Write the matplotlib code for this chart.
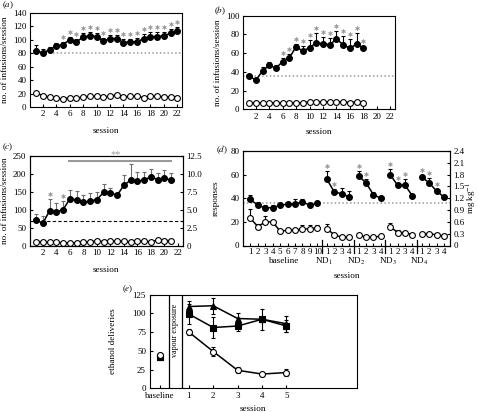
import matplotlib
matplotlib.use('Agg')
import matplotlib.pyplot as plt
import matplotlib.transforms as mtransforms
import numpy as np

plt.rcParams['font.family'] = ['Liberation Serif', 'DejaVu Serif']
plt.rcParams['mathtext.fontset'] = 'stix'
plt.rcParams['xtick.direction'] = 'in'
plt.rcParams['ytick.direction'] = 'in'
plt.rcParams['xtick.labelsize'] = 6.5
plt.rcParams['ytick.labelsize'] = 6.5
plt.rcParams['axes.labelsize'] = 6.6
plt.rcParams['axes.linewidth'] = 0.8
plt.rcParams['xtick.major.size'] = 2.5
plt.rcParams['ytick.major.size'] = 2.5
plt.rcParams['xtick.major.pad'] = 2.5
plt.rcParams['ytick.major.pad'] = 2.5

W, H = 479, 412
GREY = '#9a9a9a'

# ---- panel (a)
a_sessions = np.arange(1, 23)
a_drug = [83, 81, 85, 91, 93, 100, 97, 104, 106, 105, 98, 102, 102, 96, 97, 97, 102, 105, 105, 106, 110, 113]
a_drug_err = [9, 6, 5, 5, 4, 5, 4, 6, 5, 5, 5, 5, 5, 5, 5, 6, 6, 6, 6, 6, 6, 6]
a_water = [21, 17, 15, 13, 12, 14, 13, 15, 16, 16, 15, 16, 18, 15, 16, 16, 14, 16, 16, 15, 15, 14]
a_stars = list(range(5, 23))
a_criterion = 80

# ---- panel (b)
b_sessions = np.arange(1, 19)
b_drug = [36, 31, 41, 47, 44, 51, 55, 67, 62, 66, 71, 70, 69, 75, 69, 65, 70, 65]
b_drug_err = [2, 2, 4, 3, 3, 4, 4, 3, 6, 8, 10, 7, 7, 9, 9, 10, 11, 3]
b_water = [7, 7, 7, 7, 7, 7, 7, 7, 7, 8, 8, 8, 8, 8, 8, 7, 8, 7]
b_stars = list(range(6, 19))
b_criterion = 36

# ---- panel (c)
c_sessions = np.arange(1, 22)
c_drug = [72, 63, 98, 94, 101, 131, 128, 121, 125, 129, 149, 148, 141, 169, 183, 180, 183, 193, 184, 189, 182]
c_drug_err = [18, 20, 32, 26, 23, 24, 26, 22, 22, 20, 22, 13, 4, 27, 44, 25, 22, 22, 19, 23, 20]
c_water = [12, 12, 10, 10, 9, 8, 9, 10, 12, 14, 12, 15, 13, 14, 11, 15, 13, 12, 16, 15, 15]
c_stars = [3, 5]
c_criterion = 70
c_sig_span = (5.8, 21)
c_sig_level = 237

# ---- panel (d)
d_groups = ['baseline', 'ND$_1$', 'ND$_2$', 'ND$_3$', 'ND$_4$']
d_group_start = [1, 11.3, 15.55, 19.8, 24.05]
d_drug = [[39, 34, 32, 32, 34, 35, 35, 37, 34, 36],
          [56, 45, 44, 41], [59, 53, 43, 40], [60, 51, 51, 42], [58, 53, 46, 41]]
d_drug_err = [[4, 3, 2, 2, 1, 2, 4, 2, 1, 2],
              [7, 3, 5, 5], [4, 3, 2, 2], [5, 2, 5, 1], [2, 4, 2, 2]]
d_veh = [[23, 16, 20, 20, 12, 13, 13, 14, 14, 15],
         [14, 9, 7, 7], [9, 7, 7, 8], [16, 11, 11, 9], [10, 10, 9, 8]]
d_veh_err = [[8, 2, 5, 2, 1, 2, 1, 3, 3, 2],
             [4, 1, 1, 1], [1, 1, 1, 1], [3, 2, 1, 1], [1, 1, 1, 1]]
d_stars = [[], [0, 1], [0, 1], [0, 1, 2], [0, 1, 2]]
d_criterion = 36

# ---- panel (e)
e_labels = ['baseline', '1', '2', '3', '4', '5']
e_pos = [-0.19, 1, 2, 3, 4, 5]
e_circle = [44, 75, 49, 24, 19, 21]
e_circle_err = [2, 4, 6, 4, 2, 5]
e_square = [42, 99, 81, 83, 92, 83]
e_square_err = [2, 13, 14, 6, 3, 8]
e_tri = [42, 109, 110, 93, 92, 86]
e_tri_err = [2, 8, 11, 8, 14, 11]
e_vapour = (0.19, 0.71)

fig = plt.figure(figsize=(W / 100, H / 100), dpi=100)


def px_axes(l, t, r, b):
    return fig.add_axes([l / W, 1 - b / H, (r - l) / W, (b - t) / H])


def series(ax, x, y, err, filled, ecolor='k', marker='o', ms=4.2, both=False):
    err = np.asarray(err)
    yerr = err if both else [np.zeros(len(err)), err]
    ax.errorbar(x, y, yerr=yerr, fmt='none', ecolor=ecolor, elinewidth=0.8,
                capsize=1.6, capthick=0.8, zorder=2)
    ax.plot(x, y, color='k', lw=1.1, marker=marker, ms=ms,
            mfc='k' if filled else 'white', mec='k', mew=0.8, zorder=3)


def stars(ax, x, top, dy=5):
    tr = mtransforms.offset_copy(ax.transData, fig=fig, x=0, y=dy, units='dots')
    ax.plot(x, top, ls='none', marker='$*$', ms=3.0, color=GREY, mew=0.3,
            transform=tr, clip_on=False, zorder=4)


def session_axis(ax, ymax, ystep):
    ax.set_xlim(0.1, 22.7)
    ax.set_xticks(range(2, 23, 2))
    ax.set_ylim(0, ymax)
    ax.set_yticks(np.arange(0, ymax + 1, ystep))
    ax.set_xlabel('session')
    ax.set_ylabel('no. of infusions/session')


# (a)
ax = px_axes(30, 13, 182, 107)
session_axis(ax, 140, 20)
ax.axhline(a_criterion, color=GREY, ls=(0, (1, 1.5)), lw=1.1, zorder=1)
series(ax, a_sessions, a_drug, a_drug_err, True)
series(ax, a_sessions, a_water, np.zeros(len(a_water)), False)
idx = [s - 1 for s in a_stars]
stars(ax, np.array(a_stars), np.array(a_drug)[idx] + np.array(a_drug_err)[idx])
ax.xaxis.set_label_coords(0.5, -0.21)
ax.yaxis.set_label_coords(-0.14, 0.5)

# (b)
ax = px_axes(243, 15.7, 395, 109.3)
session_axis(ax, 100, 20)
ax.axhline(b_criterion, color=GREY, ls=(0, (1, 1.5)), lw=1.1, zorder=1)
series(ax, b_sessions, b_drug, b_drug_err, True)
series(ax, b_sessions, b_water, np.zeros(len(b_water)), False)
idx = [s - 1 for s in b_stars]
stars(ax, np.array(b_stars), np.array(b_drug)[idx] + np.array(b_drug_err)[idx])
ax.xaxis.set_label_coords(0.5, -0.2)
ax.yaxis.set_label_coords(-0.14, 0.5)

# (c)
ax = px_axes(30, 156, 182.7, 246)
session_axis(ax, 250, 50)
ax.axhline(c_criterion, color='k', ls=(0, (3, 2)), lw=0.8, zorder=1)
series(ax, c_sessions, c_drug, c_drug_err, True, ecolor='#6e6e6e')
series(ax, c_sessions, c_water, np.zeros(len(c_water)), False)
idx = [s - 1 for s in c_stars]
stars(ax, np.array(c_stars), np.array(c_drug)[idx] + np.array(c_drug_err)[idx])
ax.plot(c_sig_span, [c_sig_level, c_sig_level], color=GREY, lw=1.5, clip_on=False, zorder=4)
ax.text(np.mean(c_sig_span) - 0.6, c_sig_level + 3, '**', color=GREY, fontsize=7.5,
        ha='center', va='bottom', clip_on=False)
ax.xaxis.set_label_coords(0.5, -0.22)
ax.yaxis.set_label_coords(-0.14, 0.5)
axr = ax.twinx()
axr.set_ylim(0, 12.5)
axr.set_yticks([0, 2.5, 5, 7.5, 10, 12.5])
axr.set_yticklabels(['0', '2.5', '5.0', '7.5', '10.0', '12.5'])

# (d)
ax = px_axes(243, 151, 450, 245.5)
ax.set_xlim(0, 27.85)
ax.set_ylim(0, 80)
ax.set_yticks(range(0, 81, 20))
ax.axhline(d_criterion, color=GREY, ls=(0, (1, 1.5)), lw=1.1, zorder=1)
ticks, ticklabels = [], []
blend = mtransforms.blended_transform_factory(ax.transData, ax.transAxes)
for g, start in enumerate(d_group_start):
    n = len(d_drug[g])
    x = start + np.arange(n)
    ticks += list(x)
    ticklabels += [str(i + 1) for i in range(n)]
    series(ax, x, d_drug[g], d_drug_err[g], True)
    series(ax, x, d_veh[g], d_veh_err[g], False)
    if d_stars[g]:
        si = d_stars[g]
        stars(ax, x[si], np.array(d_drug[g])[si] + np.array(d_drug_err[g])[si])
    if g == 0:
        ax.text(np.mean(x), -0.165, d_groups[g], transform=blend, ha='center',
                va='center', fontsize=6.6)
    else:
        sep = start - 0.65
        ax.plot([sep, sep], [-0.075, 0.06], color='k', lw=0.9, transform=blend,
                clip_on=False)
        ax.text(sep + 0.3, -0.165, d_groups[g], transform=blend, ha='center',
                va='center', fontsize=6.6)
ax.set_xticks(ticks)
ax.set_xticklabels(ticklabels)
ax.tick_params(axis='x', pad=2)
ax.set_xlabel('session')
ax.set_ylabel('responses')
ax.xaxis.set_label_coords(0.5, -0.28)
ax.yaxis.set_label_coords(-0.11, 0.5)
axr = ax.twinx()
axr.set_ylim(0, 2.4)
rt = np.round(np.arange(0, 2.41, 0.3), 1)
axr.set_yticks(rt)
axr.set_yticklabels(['0'] + ['%.1f' % v for v in rt[1:]])
axr.set_ylabel('mg kg$^{-1}$', fontsize=6.5)
axr.yaxis.set_label_coords(1.07, 0.5)

# (e)
ax = px_axes(149.5, 294.5, 357.3, 388.3)
ax.set_xlim(-0.61, 7.9)
ax.set_ylim(0, 125)
ax.set_yticks(range(0, 126, 25))
ax.set_xticks(e_pos)
ax.set_xticklabels(e_labels)
for xv in e_vapour:
    ax.axvline(xv, color='k', lw=0.9)
ax.text(np.mean(e_vapour), 0.9, 'vapour exposure', rotation=90, fontsize=5.8,
        ha='center', va='top', transform=mtransforms.blended_transform_factory(ax.transData, ax.transAxes))
for vals, err, mk, filled in [(e_tri, e_tri_err, '^', True),
                              (e_square, e_square_err, 's', True),
                              (e_circle, e_circle_err, 'o', False)]:
    ax.errorbar(e_pos, vals, yerr=err, fmt='none', ecolor='k', elinewidth=0.8,
                capsize=1.6, capthick=0.8, zorder=2)
    ax.plot(e_pos[1:], vals[1:], color='k', lw=1.1, zorder=3)
    ax.plot(e_pos, vals, ls='none', marker=mk, ms=4.3, mfc='k' if filled else 'white',
            mec='k', mew=0.8, zorder=3)
ax.set_xlabel('session')
ax.set_ylabel('ethanol deliveries')
ax.xaxis.set_label_coords(0.5, -0.175)
ax.yaxis.set_label_coords(-0.157, 0.5)

# panel letters
for txt, px, py in [('a', 2, 5), ('b', 214, 10.5), ('c', 2, 147.5), ('d', 216, 149.5), ('e', 122, 289)]:
    fig.text(px / W, 1 - py / H, '($\\it{%s}$)' % txt, fontsize=6.5, ha='left', va='center')

fig.savefig('out.png', dpi=100)
